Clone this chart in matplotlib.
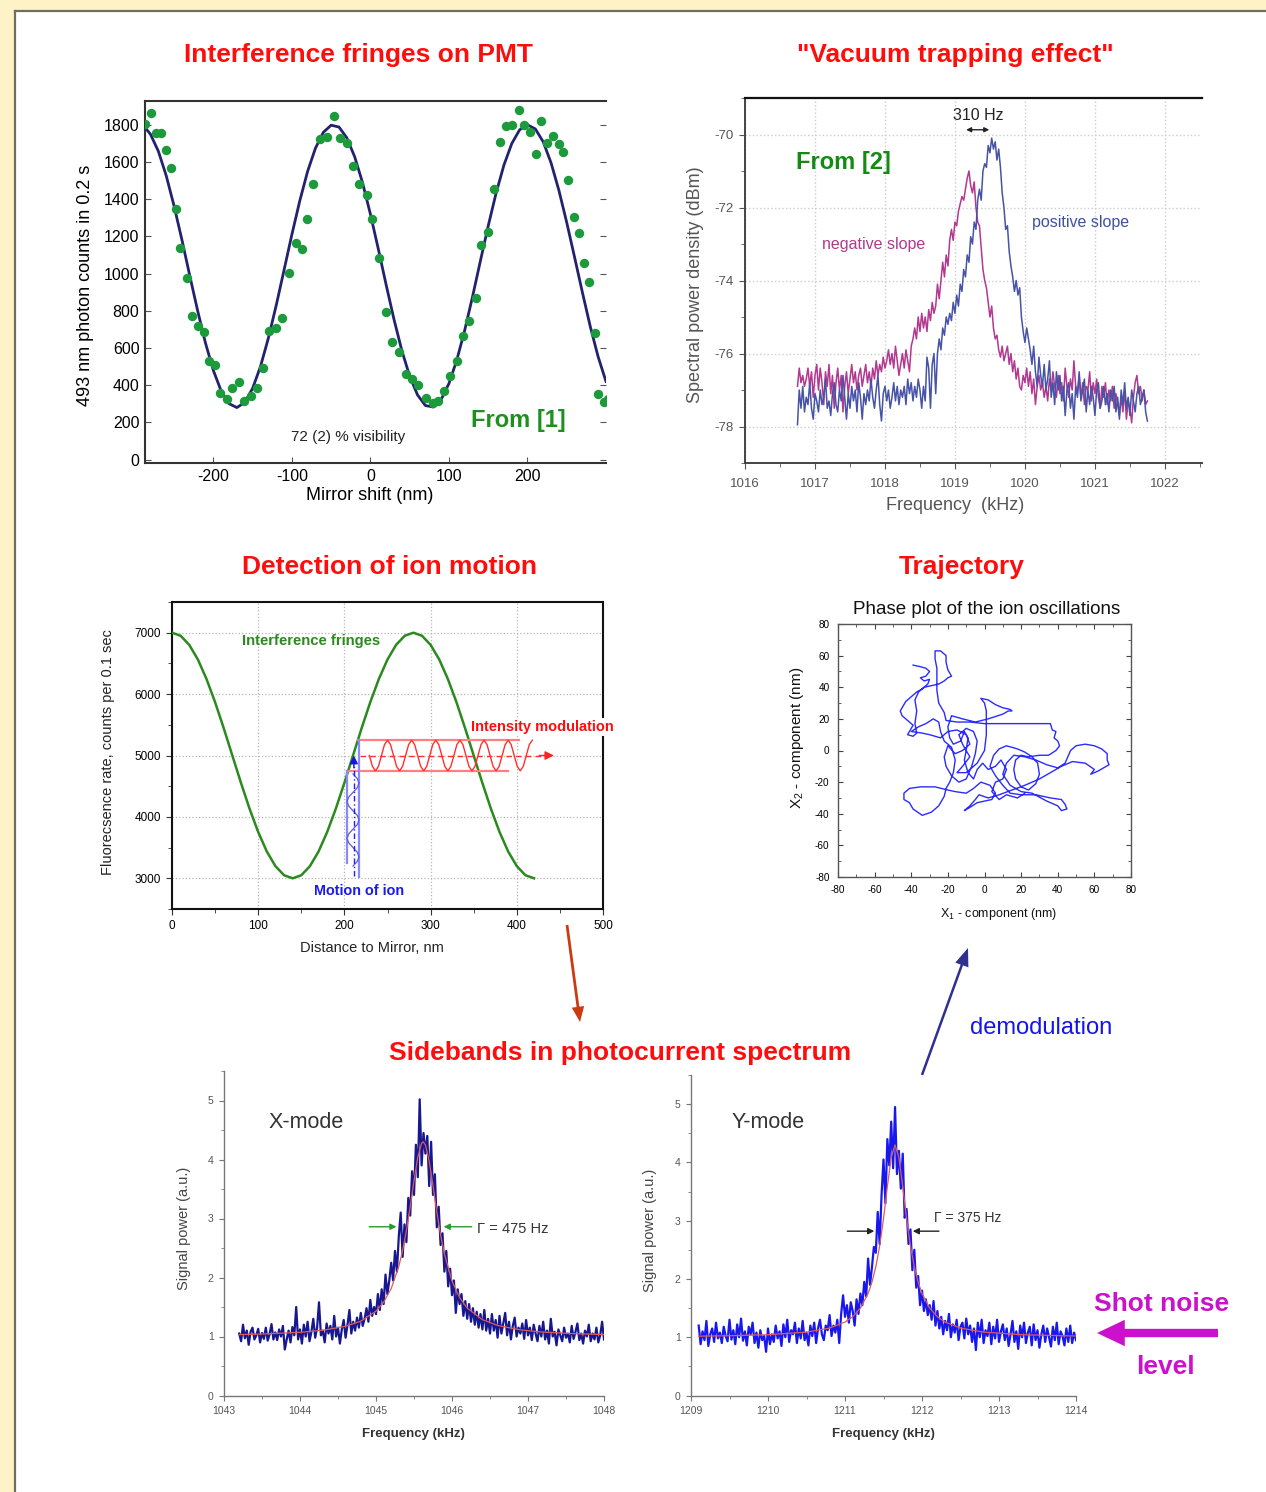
import numpy as np
import matplotlib
matplotlib.use("Agg")
import matplotlib.pyplot as plt
from matplotlib.patches import Rectangle, FancyArrowPatch
from matplotlib.lines import Line2D
from matplotlib.ticker import MultipleLocator

plt.rcParams['font.family'] = ['Liberation Sans', 'DejaVu Sans']
plt.rcParams['axes.unicode_minus'] = False

W, H = 1266, 1492

# ---------------- Panel 1: interference fringes on PMT ----------------
fringe_x = [-286.5, -279.3, -273.0, -266.4, -260.6, -253.9, -247.2, -241.8, -233.7, -227.0,
            -219.4, -212.3, -205.6, -198.0, -191.3, -182.3, -175.6, -167.6, -160.9, -152.4,
            -144.4, -136.3, -128.7, -119.8, -113.1, -104.1, -95.2, -87.6, -80.4, -72.8,
            -63.9, -55.0, -46.9, -38.4, -30.4, -22.3, -13.9, -4.9, 2.2, 11.2,
            20.1, 27.7, 36.6, 44.7, 53.2, 61.2, 70.2, 79.1, 85.8, 93.4,
            101.5, 110.4, 118.4, 126.0, 134.1, 140.8, 149.7, 157.3, 164.9, 172.9,
            179.7, 188.6, 195.3, 203.4, 211.0, 217.7, 225.3, 232.4, 240.0, 245.8,
            252.1, 259.2, 265.5, 272.2, 278.9, 285.6, 290.1, 297.2, 302.6]
fringe_y = [1804, 1866, 1755, 1755, 1662, 1568, 1350, 1139, 974, 772,
            719, 688, 531, 508, 358, 325, 384, 420, 313, 340,
            384, 495, 692, 706, 763, 1001, 1166, 1135, 1296, 1482,
            1723, 1732, 1848, 1728, 1702, 1580, 1484, 1421, 1291, 1085,
            794, 635, 581, 459, 436, 402, 334, 307, 316, 370,
            447, 531, 665, 745, 867, 1153, 1223, 1455, 1707, 1795,
            1800, 1881, 1800, 1761, 1645, 1818, 1702, 1738, 1696, 1652,
            1505, 1305, 1219, 1055, 955, 683, 352, 311, 325]
fit1_x = [-287, -280, -270, -260, -250, -240, -230, -220, -210, -200,
          -190, -180, -170, -160, -150, -140, -130, -120, -110, -100,
          -90, -80, -70, -60, -50, -40, -30, -20, -10, 0,
          10, 20, 30, 40, 50, 60, 70, 80, 90, 100,
          110, 120, 130, 140, 150, 160, 170, 180, 190, 200,
          210, 220, 230, 240, 250, 260, 270, 280, 290, 300]
fit1_y = [1786, 1749, 1658, 1527, 1364, 1182, 989, 801, 627, 480,
          369, 301, 280, 308, 383, 500, 652, 828, 1018, 1210,
          1390, 1549, 1674, 1759, 1798, 1788, 1730, 1628, 1489, 1320,
          1134, 941, 755, 587, 449, 348, 291, 283, 323, 409,
          535, 694, 875, 1067, 1256, 1432, 1583, 1699, 1773, 1800,
          1778, 1709, 1596, 1448, 1275, 1088, 898, 715, 553, 420]
p1_xticks = [-200, -100, 0, 100, 200]
p1_yticks = [0, 200, 400, 600, 800, 1000, 1200, 1400, 1600, 1800]

# ---------------- Panel 2: vacuum trapping effect ----------------
vt_start, vt_step = 1016.75, 0.025
vt_blue = [-77.95, -77.0, -77.5, -76.9, -77.6, -77.2, -77.4, -76.8, -77.5, -77.8, -77.1, -77.3, -77.6, -77.0, -77.4, -77.2, -76.7, -77.5, -77.3, -77.7,
           -77.1, -76.8, -77.4, -77.6, -77.0, -77.3, -76.6, -77.2, -77.8, -77.1, -77.5, -76.9, -77.3, -77.0, -77.6, -76.8, -77.2, -77.8, -77.1, -77.4,
           -77.0, -77.3, -76.7, -77.2, -77.5, -77.0, -76.6, -77.4, -77.85, -77.1, -76.9, -77.3, -77.0, -77.5, -77.2, -76.8, -77.3, -76.9, -77.4, -77.0,
           -77.2, -76.9, -77.4, -76.7, -77.1, -76.8, -77.3, -76.9, -77.2, -76.7, -77.0, -77.5, -76.9, -77.3, -76.1, -76.4, -77.5, -76.3, -76.0, -77.1,
           -76.0, -75.6, -75.9, -75.3, -75.5, -75.0, -75.2, -74.9, -75.1, -74.6, -74.9, -74.4, -74.7, -74.1, -74.3, -73.7, -73.9, -73.3, -73.5, -72.8,
           -73.0, -72.4, -72.6, -71.8, -71.5, -71.8, -71.0, -70.8, -70.9, -70.3, -70.5, -70.1, -70.4, -70.2, -70.7, -70.4, -70.9, -71.6, -72.0, -72.6,
           -72.5, -73.2, -73.6, -73.9, -74.3, -74.0, -74.4, -74.2, -75.0, -75.4, -75.7, -75.3, -75.6, -75.9, -76.3, -75.8, -76.5, -76.9, -76.1, -76.6,
           -76.9, -76.3, -77.0, -76.7, -76.2, -77.2, -76.8, -77.4, -76.5, -77.0, -76.6, -77.3, -76.9, -77.7, -77.0, -76.8, -77.5, -77.1, -77.8, -76.9,
           -77.2, -76.5, -77.3, -77.0, -76.7, -77.6, -77.0, -77.4, -76.9, -77.2, -77.7, -77.0, -76.8, -77.5, -77.3, -76.9, -77.4, -77.1, -77.6, -77.0,
           -77.3, -76.9, -77.6, -77.2, -77.8, -77.0, -77.4, -76.8, -77.5, -77.2, -77.7, -77.0, -77.3, -77.6, -77.1, -76.9, -77.4, -77.2, -77.0, -77.6, -77.85]
vt_magenta = [-76.9, -76.4, -76.8, -76.6, -76.9, -76.7, -76.4, -76.9, -76.5, -77.2, -76.6, -76.3, -77.0, -76.4, -76.8, -77.4, -76.5, -76.9, -76.3, -77.1,
              -76.6, -77.5, -76.8, -76.4, -77.0, -76.6, -77.6, -76.9, -76.5, -77.1, -76.7, -76.3, -76.8, -76.5, -77.0, -76.6, -76.4, -76.9, -76.6, -76.3,
              -76.8, -76.5, -76.9, -76.4, -76.7, -76.2, -76.6, -76.3, -76.5, -76.1, -76.4, -76.2, -75.9, -76.3, -76.0, -76.4, -75.8, -76.2, -76.6, -76.3,
              -76.0, -76.4, -75.9, -76.2, -76.5, -75.8, -75.6, -75.3, -75.6, -75.0, -75.4, -74.9, -75.3, -75.0, -75.4, -74.8, -75.1, -74.6, -74.9, -74.7,
              -74.1, -74.5, -74.0, -73.5, -73.9, -73.3, -73.6, -72.9, -72.6, -72.9, -72.4, -72.5, -72.1, -71.9, -71.7, -71.8, -71.5, -71.2, -71.0, -71.4,
              -71.6, -71.3, -72.0, -72.4, -72.5, -73.1, -73.7, -74.0, -74.2, -74.6, -75.0, -74.7, -75.3, -75.6, -75.5, -75.9, -76.1, -75.8, -76.2, -76.0,
              -75.8, -76.3, -76.0, -76.5, -76.2, -76.7, -76.4, -76.9, -77.0, -76.6, -76.8, -76.4, -76.9, -76.5, -77.1, -76.7, -77.4, -76.9, -76.6, -77.0,
              -76.8, -77.2, -76.9, -77.3, -76.7, -77.0, -76.5, -76.9, -77.2, -76.6, -77.1, -76.8, -77.3, -76.4, -76.9, -77.2, -76.7, -77.0, -76.2, -76.9,
              -77.1, -76.6, -77.2, -76.8, -77.4, -76.9, -77.0, -76.5, -77.3, -76.8, -77.1, -76.7, -77.2, -77.5, -76.9, -77.2, -76.8, -77.4, -77.0, -77.3,
              -76.9, -77.5, -77.1, -77.4, -77.7, -77.2, -77.6, -77.0, -77.8, -77.3, -77.5, -77.9, -77.2, -76.8, -76.6, -77.1, -76.9, -77.3, -77.0, -77.4, -77.3]
p2_xticks = [1016, 1017, 1018, 1019, 1020, 1021, 1022]
p2_yticks = [-78, -76, -74, -72, -70]

# ---------------- Panel 3: detection of ion motion (schematic) ----------------
green_x = [0, 10, 20, 30, 40, 50, 60, 70, 80, 90, 100, 110, 120, 130, 140, 150, 160, 170, 180, 190,
           200, 210, 220, 230, 240, 250, 260, 270, 280, 290, 300, 310, 320, 330, 340, 350, 360, 370,
           380, 390, 400, 410, 420]
green_y = [7000, 6950, 6802, 6564, 6247, 5868, 5445, 5000, 4555, 4132, 3753, 3436, 3198, 3050, 3000,
           3050, 3198, 3436, 3753, 4132, 4555, 5000, 5445, 5868, 6247, 6564, 6802, 6950, 7000,
           6950, 6802, 6564, 6247, 5868, 5445, 5000, 4555, 4132, 3753, 3436, 3198, 3050, 3000]
mod_start, mod_step = 229.0, 3.5
mod_y = [5000, 4823, 4750, 4823, 5000, 5177, 5250, 5177,
         5000, 4823, 4750, 4823, 5000, 5177, 5250, 5177,
         5000, 4823, 4750, 4823, 5000, 5177, 5250, 5177,
         5000, 4823, 4750, 4823, 5000, 5177, 5250, 5177,
         5000, 4823, 4750, 4823, 5000, 5177, 5250, 5177,
         5000, 4823, 4750, 4823, 5000, 5177, 5250, 5177,
         5000, 4823, 4750, 4823, 5000, 5177, 5250]
wave_y = [3200, 3275, 3350, 3425, 3500, 3575, 3650, 3725, 3800, 3875, 3950, 4025, 4100, 4175,
          4250, 4325, 4400, 4475, 4550, 4625, 4700]
wave_x = [210, 214.9, 217, 214.9, 210, 205.1, 203, 205.1, 210, 214.9, 217, 214.9, 210, 205.1,
          203, 205.1, 210, 214.9, 217, 214.9, 210]
p3_xticks = [0, 100, 200, 300, 400, 500]
p3_yticks = [3000, 4000, 5000, 6000, 7000]

# ---------------- Panel 4: phase plot trajectory ----------------
traj = [(-39, 54), (-35, 53), (-32, 52), (-30, 50), (-32, 47), (-35, 46), (-33, 44), (-30, 45), (-31, 42), (-34, 39), (-37, 37),
        (-40, 34), (-43, 31), (-46, 25), (-45, 22), (-42, 19), (-39, 16), (-41, 12), (-42, 10), (-39, 9), (-37, 11), (-38, 17),
        (-37, 25), (-38, 32), (-36, 37), (-33, 40), (-29, 41), (-25, 42), (-22, 44), (-20, 46), (-18, 47), (-20, 51), (-21, 56),
        (-21, 60), (-24, 63), (-27, 63), (-27, 58), (-26, 52), (-26, 45), (-26, 38), (-25, 30), (-22, 24), (-21, 19),
        (-15, 18), (-8, 18), (0, 17), (8, 17), (16, 17), (24, 17), (31, 17), (36, 17), (37, 13), (39, 12), (38, 8), (40, 6), (41, 3),
        (39, 0), (35, -3), (30, -3), (24, -4), (20, -3), (17, -6), (16, -12), (17, -18), (20, -23), (24, -25), (28, -21), (30, -15),
        (29, -8), (26, -4), (22, -1), (18, 1), (12, 3), (8, 1), (5, -3), (3, -10), (6, -16), (10, -22), (14, -27), (20, -28),
        (28, -28), (36, -30), (42, -31), (44, -34), (45, -37), (42, -38), (40, -35), (34, -32), (26, -27), (20, -26), (14, -22),
        (10, -15), (12, -8), (16, -3), (22, -4), (28, -6), (34, -9), (40, -11), (44, -8), (47, 0), (50, 3), (55, 4), (60, 3),
        (64, 1), (67, -2), (67, -6), (68, -9), (65, -11), (62, -13), (58, -15), (60, -12), (55, -8), (48, -7), (42, -10),
        (36, -14), (30, -18), (22, -22), (15, -25), (8, -28), (2, -30), (-3, -28), (-5, -31), (-8, -35), (-11, -38), (-8, -36),
        (-4, -33), (0, -32), (4, -31), (6, -27), (3, -22), (-2, -20), (-6, -24), (-10, -27), (-16, -26), (-20, -25), (-27, -23),
        (-35, -23), (-41, -24), (-44, -27), (-44, -31), (-41, -33), (-39, -37), (-34, -41), (-29, -39), (-25, -35), (-22, -29),
        (-21, -24), (-19, -20), (-17, -14), (-16, -6), (-18, 2), (-22, 6), (-24, 12), (-25, 18), (-28, 20), (-32, 17), (-36, 15),
        (-40, 12), (-34, 11), (-30, 10), (-24, 8), (-20, 12), (-15, 13), (-10, 10), (-8, 4), (-12, 0), (-16, -2), (-20, 3),
        (-22, -4), (-21, -10), (-18, -16), (-14, -20), (-10, -18), (-7, -10), (-5, -2), (-4, 6), (-6, 12), (-10, 14), (-14, 10),
        (-12, 4), (-8, -4), (-12, -10), (-15, -14), (-10, -14), (-4, -8), (0, 0), (1, 10), (1, 20), (1, 25), (0, 30), (-2, 33),
        (2, 32), (6, 29), (10, 27), (14, 26), (15, 25), (13, 25), (10, 23), (2, 20), (-5, 18), (-12, 20), (-18, 22),
        (-20, 15), (-19, 8), (-17, 4), (-13, 6), (-11, 12), (-9, 8), (-10, 0), (-11, -6), (-9, -14), (-6, -18), (-4, -12),
        (-1, -8), (2, -12), (6, -10), (9, -6), (12, -12), (10, -18), (6, -20), (4, -26), (8, -31), (12, -28), (18, -30), (22, -27)]
p4_ticks = [-80, -60, -40, -20, 0, 20, 40, 60, 80]

# ---------------- Panel 5: X-mode sideband ----------------
xm_start, xm_step = 1043.2, 0.025
xm_data = [1.05, 0.92, 1.20, 0.97, 1.10, 0.86, 1.08, 1.15, 0.95, 1.02, 1.13, 0.90, 1.06, 0.96, 1.15, 0.93, 1.04, 1.21, 0.95, 1.07,
           0.94, 1.12, 1.00, 1.18, 0.78, 0.95, 1.10, 0.90, 1.16, 1.02, 1.50, 0.95, 1.12, 0.88, 1.20, 1.00, 1.25, 0.92, 1.08, 1.30,
           0.98, 1.15, 1.58, 1.02, 1.10, 0.90, 1.22, 1.05, 1.18, 0.95, 1.35, 1.00, 1.15, 0.88, 1.12, 1.28, 0.98, 1.20, 1.45, 1.05,
           1.25, 1.10, 1.32, 1.15, 1.40, 1.18, 1.30, 1.48, 1.25, 1.62, 1.35, 1.50, 1.38, 1.72, 1.45, 1.80, 1.55, 2.05, 1.72, 1.95,
           2.25, 1.95, 2.45, 2.10, 2.70, 3.10, 2.35, 2.90, 2.60, 3.35, 3.05, 3.80, 3.40, 4.25, 3.70, 5.02, 3.90, 4.45, 4.10, 4.40,
           3.55, 4.30, 3.40, 3.75, 2.85, 3.20, 2.55, 2.75, 2.10, 2.45, 1.85, 2.15, 1.70, 1.95, 1.40, 1.80, 1.55, 1.72, 1.35, 1.60,
           1.30, 1.55, 1.25, 1.48, 1.20, 1.42, 1.15, 1.38, 1.12, 1.45, 1.10, 1.30, 1.05, 1.38, 1.10, 1.28, 0.98, 1.35, 1.05, 1.22,
           1.40, 1.02, 1.25, 0.95, 1.18, 1.32, 1.00, 1.15, 1.05, 1.22, 0.96, 1.28, 1.02, 1.15, 0.94, 1.20, 1.05, 0.92, 1.18, 1.00,
           1.25, 0.95, 1.10, 0.88, 1.30, 1.00, 1.08, 0.85, 1.12, 1.02, 0.92, 1.15, 0.98, 1.05, 0.90, 1.18, 0.96, 1.08, 1.22, 0.94,
           1.05, 0.88, 1.10, 1.00, 1.20, 0.92, 1.05, 0.95, 1.15, 0.90, 1.02, 1.25, 0.95]
xm_fit_x = [1043.2, 1043.5, 1044.0, 1044.3, 1044.6, 1044.8, 1045.0, 1045.1, 1045.2, 1045.3, 1045.35, 1045.4, 1045.45, 1045.5,
            1045.55, 1045.6, 1045.62, 1045.65, 1045.7, 1045.75, 1045.8, 1045.85, 1045.9, 1046.0, 1046.1, 1046.2, 1046.4,
            1046.6, 1046.9, 1047.2, 1047.6, 1048.0]
xm_fit_y = [1.032, 1.042, 1.071, 1.106, 1.173, 1.260, 1.430, 1.580, 1.812, 2.188, 2.456, 2.793, 3.197, 3.640, 4.041, 4.277,
            4.300, 4.249, 3.970, 3.552, 3.112, 2.720, 2.398, 1.941, 1.660, 1.482, 1.285, 1.187, 1.112, 1.074, 1.048, 1.033]
xm_xticks = [1043, 1044, 1045, 1046, 1047, 1048]

# ---------------- Panel 6: Y-mode sideband ----------------
ym_start, ym_step = 1209.1, 0.025
ym_data = [1.20, 0.88, 1.10, 0.95, 1.28, 0.85, 1.05, 1.15, 0.92, 1.25, 0.98, 1.08, 0.90, 1.18, 1.02, 0.93, 1.30, 0.96, 1.12, 0.88,
           1.22, 1.00, 1.32, 0.94, 1.10, 0.86, 1.18, 1.05, 1.25, 0.90, 1.08, 0.82, 1.12, 0.95, 1.02, 0.75, 1.15, 0.88, 1.05, 0.92,
           1.20, 0.98, 1.10, 0.85, 1.22, 1.00, 1.30, 0.92, 1.12, 1.05, 1.25, 0.90, 1.15, 0.98, 1.28, 0.95, 1.08, 0.86, 1.20, 1.02,
           1.25, 0.90, 1.15, 1.30, 1.05, 0.95, 1.20, 1.12, 1.38, 1.02, 1.20, 1.08, 1.30, 0.90, 1.40, 1.72, 1.35, 1.55, 1.25, 1.60,
           1.45, 1.20, 1.65, 1.40, 1.75, 1.55, 1.95, 1.70, 2.35, 1.90, 2.20, 2.55, 2.45, 3.15, 2.60, 3.45, 4.05, 3.30, 4.40, 3.95,
           4.70, 3.90, 4.95, 3.80, 4.20, 3.55, 4.15, 3.05, 3.20, 2.60, 2.85, 2.15, 2.50, 1.85, 2.05, 1.55, 1.80, 1.45, 1.65, 1.38,
           1.55, 1.30, 1.62, 1.20, 1.45, 1.15, 1.35, 1.05, 1.28, 1.12, 1.40, 1.00, 1.22, 1.08, 1.30, 0.95, 1.18, 1.25, 0.98, 1.32,
           1.05, 1.20, 0.92, 1.15, 0.78, 1.25, 1.00, 1.30, 0.90, 1.12, 1.02, 1.25, 0.88, 1.18, 0.98, 1.30, 0.92, 1.10, 1.22, 0.95,
           1.15, 0.85, 1.05, 1.28, 0.92, 1.10, 0.80, 1.20, 1.00, 1.25, 0.90, 1.08, 1.18, 0.86, 1.22, 0.95, 1.12, 0.82, 1.05, 1.20,
           0.92, 1.15, 1.00, 0.84, 1.18, 0.95, 1.25, 0.88, 1.10, 1.02, 0.86, 1.15, 0.92, 1.20, 0.90, 1.08, 0.95]
ym_fit_x = [1209.1, 1209.5, 1210.0, 1210.5, 1210.8, 1211.0, 1211.1, 1211.2, 1211.3, 1211.35, 1211.4, 1211.45, 1211.5,
            1211.55, 1211.6, 1211.65, 1211.7, 1211.75, 1211.8, 1211.85, 1211.9, 1211.95, 1212.0, 1212.1, 1212.2, 1212.3,
            1212.5, 1212.8, 1213.3, 1214.0]
ym_fit_y = [1.018, 1.026, 1.043, 1.088, 1.157, 1.260, 1.352, 1.499, 1.751, 1.945, 2.208, 2.565, 3.033, 3.584, 4.087,
            4.300, 4.087, 3.584, 3.033, 2.565, 2.208, 1.945, 1.751, 1.499, 1.352, 1.260, 1.157, 1.088, 1.043, 1.021]
ym_xticks = [1209, 1210, 1211, 1212, 1213, 1214]
sb_yticks = [0, 1, 2, 3, 4, 5]

# ---------------- colours ----------------
RED = '#ff0d0d'
CREAM = '#fdf3c6'

# ---------------- figure ----------------
fig = plt.figure(figsize=(W / 100, H / 100), dpi=100, facecolor=CREAM)
fig.add_artist(Rectangle((15 / W, 0), 1 - 15 / W, 1 - 11 / H, transform=fig.transFigure,
                         facecolor='white', edgecolor='none', zorder=-10))
fig.add_artist(Line2D([15 / W, 15 / W], [0, 1 - 11 / H], transform=fig.transFigure, color='#6e6e62', lw=1.6))
fig.add_artist(Line2D([15 / W, 1], [1 - 11 / H, 1 - 11 / H], transform=fig.transFigure, color='#6e6e62', lw=1.6))


def pax(l, t, r, b):
    ax = fig.add_axes([l / W, 1 - b / H, (r - l) / W, (b - t) / H])
    ax.set_facecolor('none')
    return ax


def ftext(x, y, s, **kw):
    kw.setdefault('ha', 'center')
    kw.setdefault('va', 'center')
    return fig.text(x / W, 1 - y / H, s, **kw)


def farrow(x0, y0, x1, y1, style, color):
    p = FancyArrowPatch((x0 / W, 1 - y0 / H), (x1 / W, 1 - y1 / H), transform=fig.transFigure,
                        arrowstyle=style, mutation_scale=1, color=color, shrinkA=0, shrinkB=0, lw=0)
    fig.add_artist(p)


# ---- Panel 1 ----
ax1 = pax(145, 101, 606, 463)
ax1.plot(fit1_x, fit1_y, color='#22226e', lw=2, zorder=2)
ax1.scatter(fringe_x, fringe_y, s=46, color='#1c9a3c', linewidths=0, zorder=3)
ax1.set_xlim(-287, 300)
ax1.set_ylim(-18, 1928)
ax1.set_xticks(p1_xticks)
ax1.set_yticks(p1_yticks)
ax1.spines['right'].set_visible(False)
for s in ['left', 'bottom', 'top']:
    ax1.spines[s].set_color('#333333')
    ax1.spines[s].set_linewidth(1.5)
ax1.tick_params(direction='in', right=True, top=False, labelsize=11.5, length=4, pad=4, color='#555555')
ftext(86, 285, '493 nm photon counts in 0.2 s', rotation=90, fontsize=13)
ftext(370, 496, 'Mirror shift (nm)', fontsize=13)
ftext(348, 437, '72 (2) % visibility', fontsize=11, color='#222222')
ftext(518, 420, 'From [1]', fontsize=17, fontweight='bold', color='#1f8f1f')
ftext(358, 55, 'Interference fringes on PMT', fontsize=19, fontweight='bold', color=RED)

# ---- Panel 2 ----
ax2 = pax(745, 98, 1202, 463)
vt_x = vt_start + vt_step * np.arange(len(vt_blue))
ax2.plot(vt_x, vt_magenta, color='#b3388f', lw=1.1, zorder=3)
ax2.plot(vt_x, vt_blue, color='#4753a6', lw=1.1, zorder=3)
ax2.set_xlim(1016, 1022.53)
ax2.set_ylim(-79, -69)
ax2.set_xticks(p2_xticks)
ax2.set_yticks(p2_yticks)
ax2.xaxis.set_minor_locator(MultipleLocator(0.5))
ax2.yaxis.set_minor_locator(MultipleLocator(1))
ax2.grid(True, which='major', ls=':', color='#cccccc', lw=1)
ax2.spines['right'].set_visible(False)
ax2.spines['top'].set_color('#111111')
ax2.spines['top'].set_linewidth(1.6)
for s in ['left', 'bottom']:
    ax2.spines[s].set_color('#444444')
    ax2.spines[s].set_linewidth(1.4)
ax2.tick_params(which='both', direction='out', labelsize=9.5, labelcolor='#555555', color='#555555')
ax2.tick_params(which='major', length=4, pad=4)
ax2.tick_params(axis='x', which='major', pad=7)
ax2.tick_params(which='minor', length=3)
ax2.annotate('', xy=(1019.16, -69.87), xytext=(1019.49, -69.87),
             arrowprops=dict(arrowstyle='<|-|>', color='#222222', lw=1, mutation_scale=7, shrinkA=0, shrinkB=0))
ftext(978, 115, '310 Hz', fontsize=11.5, color='#222222')
ftext(843, 163, 'From [2]', fontsize=17, fontweight='bold', color='#138a13')
ftext(874, 245, 'negative slope', fontsize=11.5, color='#b03a8c')
ftext(1081, 222, 'positive slope', fontsize=11.5, color='#4050a0')
ftext(696, 285, 'Spectral power density (dBm)', rotation=90, fontsize=13, color='#555555')
ftext(955, 505, 'Frequency  (kHz)', fontsize=13, color='#555555')
ftext(955, 55, '"Vacuum trapping effect"', fontsize=19, fontweight='bold', color=RED)

# ---- Panel 3 ----
ax3 = pax(172, 602, 603, 909)
ax3.plot(green_x, green_y, color='#2a8a1e', lw=1.8, zorder=3)
ax3.set_xlim(0, 500)
ax3.set_ylim(2500, 7500)
ax3.set_xticks(p3_xticks)
ax3.set_yticks(p3_yticks)
ax3.xaxis.set_minor_locator(MultipleLocator(50))
ax3.yaxis.set_minor_locator(MultipleLocator(500))
ax3.grid(True, which='major', ls=':', color='#b5b5b5', lw=0.9)
for s in ax3.spines.values():
    s.set_color('#111111')
    s.set_linewidth(1.5)
ax3.tick_params(which='both', direction='out', labelsize=8.5, color='#333333')
ax3.tick_params(which='major', length=4, pad=4)
ax3.tick_params(which='minor', length=3)
# intensity modulation sketch
ax3.plot([216, 402], [5250, 5250], color='#ff8080', lw=1.6, zorder=4)
ax3.plot([203, 390], [4750, 4750], color='#ff8080', lw=1.6, zorder=4)
mod_x = mod_start + mod_step * np.arange(len(mod_y))
ax3.plot(mod_x, mod_y, color='#ff3030', lw=1, zorder=4)
ax3.plot([218, 428], [5000, 5000], color='#ff3030', lw=1, ls=(0, (4, 3)), zorder=4)
ax3.annotate('', xy=(443, 5000), xytext=(426, 5000), annotation_clip=False,
             arrowprops=dict(arrowstyle='-|>', color='#ff2020', lw=1, mutation_scale=13, shrinkA=0, shrinkB=0))
# ion motion sketch
ax3.plot([203, 203], [3250, 4750], color='#8a8aff', lw=1.6, zorder=4)
ax3.plot([217, 217], [3020, 5250], color='#8a8aff', lw=1.6, zorder=4)
ax3.plot(wave_x, wave_y, color='#5a5aee', lw=0.9, zorder=4)
ax3.plot([211, 211], [3030, 4850], color='#2020ee', lw=1, ls=(0, (4, 2, 1, 2)), zorder=4)
ax3.annotate('', xy=(211, 5000), xytext=(211, 4800),
             arrowprops=dict(arrowstyle='-|>', color='#1515dd', lw=1, mutation_scale=12, shrinkA=0, shrinkB=0))
ftext(311, 641, 'Interference fringes', fontsize=10.6, fontweight='bold', color='#2a8a1e')
ftext(542, 727, 'Intensity modulation', fontsize=10.5, fontweight='bold', color=RED,
      bbox=dict(facecolor='white', edgecolor='none', pad=1.5), zorder=5)
ftext(359, 891, 'Motion of ion', fontsize=10.4, fontweight='bold', color='#1a1aee')
ftext(108, 752, 'Fluorecsence rate, counts per 0.1 sec', rotation=90, fontsize=10.5, color='#222222')
ftext(372, 948, 'Distance to Mirror, nm', fontsize=10.5, color='#222222')
ftext(390, 567, 'Detection of ion motion', fontsize=19, fontweight='bold', color=RED)

# ---- Panel 4 ----
ax4 = pax(838, 624, 1131, 877)
tx = [p[0] for p in traj]
ty = [p[1] for p in traj]
ax4.plot(tx, ty, color='#2b2bff', lw=1.0)
ax4.set_xlim(-80, 80)
ax4.set_ylim(-80, 80)
ax4.set_xticks(p4_ticks)
ax4.set_yticks(p4_ticks)
ax4.xaxis.set_minor_locator(MultipleLocator(10))
ax4.yaxis.set_minor_locator(MultipleLocator(10))
for s in ax4.spines.values():
    s.set_color('#555555')
    s.set_linewidth(1.0)
ax4.tick_params(which='both', direction='in', top=True, right=True, labelsize=7.2, color='#444444')
ax4.tick_params(which='major', length=3.5, pad=6)
ax4.tick_params(which='minor', length=2)
ftext(987, 609, 'Phase plot of the ion oscillations', fontsize=13.5, color='#111111')
ftext(797, 738, r'$\mathregular{X_2}$ - component (nm)', rotation=90, fontsize=11, color='#111111')
ftext(999, 914, r'$\mathregular{X_1}$ - component (nm)', fontsize=9, color='#111111')
ftext(962, 567, 'Trajectory', fontsize=19, fontweight='bold', color=RED)


def sideband_axes(ax, xticks):
    ax.set_ylim(0, 5.5)
    ax.set_xticks(xticks)
    ax.set_yticks(sb_yticks)
    ax.xaxis.set_minor_locator(MultipleLocator(0.5))
    ax.yaxis.set_minor_locator(MultipleLocator(0.5))
    ax.spines['top'].set_visible(False)
    ax.spines['right'].set_visible(False)
    for s in ['left', 'bottom']:
        ax.spines[s].set_color('#777777')
        ax.spines[s].set_linewidth(1.0)
    ax.tick_params(which='both', direction='out', labelsize=7.5, labelcolor='#555555', color='#777777')
    ax.tick_params(which='major', length=3.5, pad=4)
    ax.tick_params(which='minor', length=2.5)


# ---- Panel 5 ----
ax5 = pax(224, 1071, 604, 1395.5)
xm_x = xm_start + xm_step * np.arange(len(xm_data))
ax5.plot(xm_x, xm_data, color='#17178f', lw=1.6, zorder=3)
ax5.plot(xm_fit_x, xm_fit_y, color='#e05a5a', lw=0.9, zorder=4)
ax5.set_xlim(1043, 1048)
sideband_axes(ax5, xm_xticks)
ax5.annotate('', xy=(1045.27, 2.86), xytext=(1044.91, 2.86),
             arrowprops=dict(arrowstyle='-|>', color='#2b9a2b', lw=1, mutation_scale=9, shrinkA=0, shrinkB=0))
ax5.annotate('', xy=(1045.89, 2.86), xytext=(1046.26, 2.86),
             arrowprops=dict(arrowstyle='-|>', color='#2b9a2b', lw=1, mutation_scale=9, shrinkA=0, shrinkB=0))
ax5.text(1046.33, 2.83, 'Γ = 475 Hz', fontsize=10.5, color='#333333', ha='left', va='center')
ftext(306, 1122, 'X-mode', fontsize=15.5, color='#333333')
ftext(184, 1228, 'Signal power (a.u.)', rotation=90, fontsize=10.5, color='#444444')
ftext(413, 1434, 'Frequency (kHz)', fontsize=9.5, fontweight='bold', color='#333333')

# ---- Panel 6 ----
ax6 = pax(691, 1075, 1076, 1395.5)
ym_x = ym_start + ym_step * np.arange(len(ym_data))
ax6.plot(ym_x, ym_data, color='#1818ee', lw=1.6, zorder=3)
ax6.plot(ym_fit_x, ym_fit_y, color='#e05a5a', lw=0.9, zorder=4)
ax6.set_xlim(1209, 1214)
sideband_axes(ax6, ym_xticks)
ax6.annotate('', xy=(1211.38, 2.82), xytext=(1211.03, 2.82),
             arrowprops=dict(arrowstyle='-|>', color='#222222', lw=1, mutation_scale=9, shrinkA=0, shrinkB=0))
ax6.annotate('', xy=(1211.88, 2.82), xytext=(1212.22, 2.82),
             arrowprops=dict(arrowstyle='-|>', color='#222222', lw=1, mutation_scale=9, shrinkA=0, shrinkB=0))
ax6.text(1212.16, 3.04, 'Γ = 375 Hz', fontsize=10, color='#333333', ha='left', va='center')
ftext(768, 1122, 'Y-mode', fontsize=15.5, color='#333333')
ftext(650, 1230, 'Signal power (a.u.)', rotation=90, fontsize=10.5, color='#444444')
ftext(883, 1434, 'Frequency (kHz)', fontsize=9.5, fontweight='bold', color='#333333')

# ---- figure-level annotations ----
ftext(620, 1053, 'Sidebands in photocurrent spectrum', fontsize=19, fontweight='bold', color=RED)
ftext(1041, 1028, 'demodulation', fontsize=17, color='#1414ee')
ftext(1162, 1304, 'Shot noise', fontsize=19, fontweight='bold', color='#cc11cc')
ftext(1165, 1367, 'level', fontsize=19, fontweight='bold', color='#cc11cc')
farrow(1218, 1333, 1097, 1333, 'simple,head_length=20,head_width=19,tail_width=6', '#cc11cc')
farrow(567, 925, 580, 1022, 'simple,head_length=11,head_width=9,tail_width=2', '#cc3a10')
farrow(922, 1075, 968, 948, 'simple,head_length=13,head_width=10,tail_width=1.8', '#303090')

fig.savefig('out.png', dpi=100, facecolor=fig.get_facecolor())
